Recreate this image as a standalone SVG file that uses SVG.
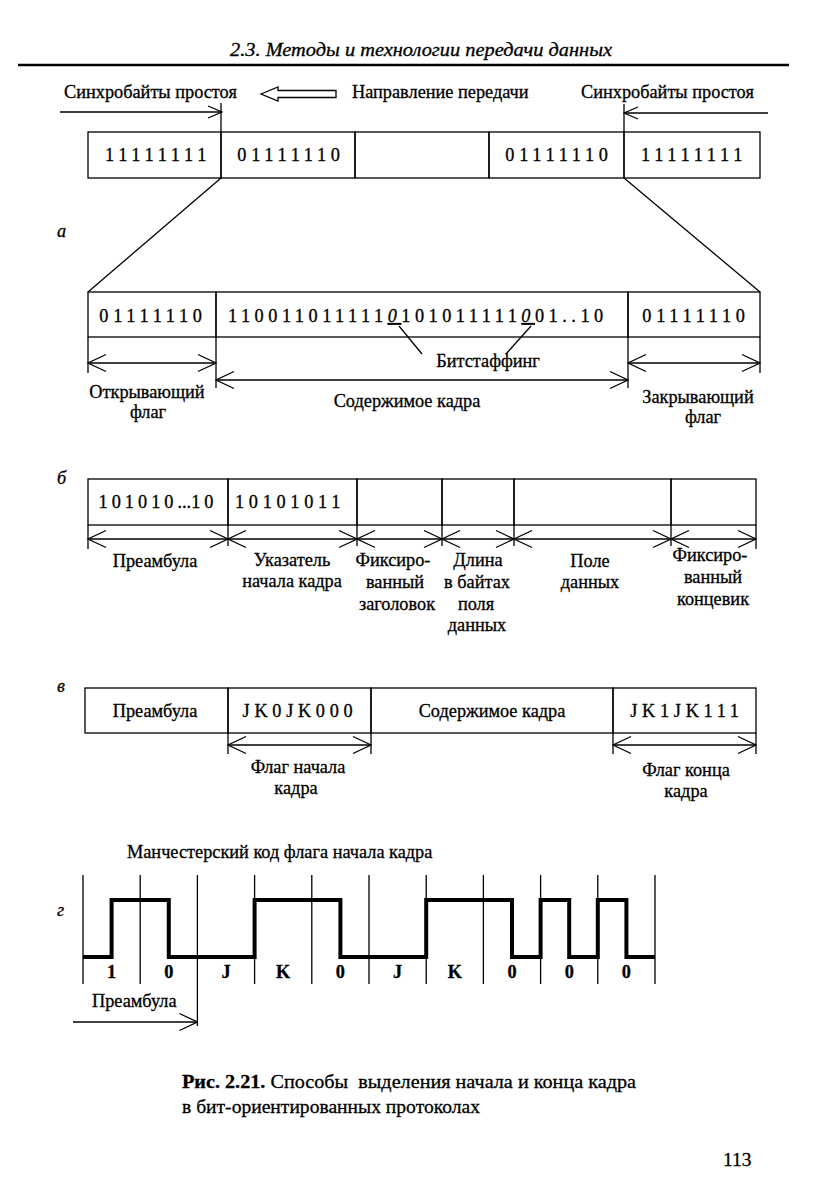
<svg xmlns="http://www.w3.org/2000/svg" width="834" height="1198" viewBox="0 0 834 1198">
<style>
.t{font-family:"Liberation Serif","DejaVu Serif",serif;font-size:18.3px;fill:#000;stroke:#000;stroke-width:0.3}
.m{text-anchor:middle}
.b{letter-spacing:4.7px}
.it{font-style:italic}
.box{fill:none;stroke:#000;stroke-width:1.3}
.ln{fill:none;stroke:#000;stroke-width:1.3}
.wave{fill:none;stroke:#000;stroke-width:4;stroke-linejoin:miter}
</style>
<defs>
<marker id="ah" markerUnits="userSpaceOnUse" viewBox="0 0 20 20" markerWidth="20" markerHeight="20" refX="19" refY="10" orient="auto-start-reverse"><path d="M1,1.5 L19,10 L1,18.5" fill="none" stroke="#000" stroke-width="1.3"/></marker>
<marker id="as" markerUnits="userSpaceOnUse" viewBox="0 0 16 14" markerWidth="16" markerHeight="14" refX="15" refY="7" orient="auto-start-reverse"><path d="M1,1 L15,7 L1,13" fill="none" stroke="#000" stroke-width="1.3"/></marker>
</defs>
<rect width="834" height="1198" fill="#fff"/>

<g id="header">
<text class="t it" x="230" y="56" textLength="382" lengthAdjust="spacingAndGlyphs">2.3. Методы и технологии передачи данных</text>
<line x1="18" y1="65" x2="789" y2="65" stroke="#000" stroke-width="2.5"/>
</g>

<g id="labels-a-top">
<text class="t" x="64" y="98">Синхробайты простоя</text>
<polygon points="261,94 278,87 278,90.5 336,90.5 336,97.5 278,97.5 278,101" fill="#fff" stroke="#000" stroke-width="1.3"/>
<text class="t" x="352" y="98">Направление передачи</text>
<text class="t" x="581" y="98">Синхробайты простоя</text>
<text class="t it" x="57" y="237">а</text>
</g>

<g id="a-frame">
<g id="a-c1"><rect class="box" x="88" y="132" width="133" height="46"/><text class="t m b" x="158" y="161">11111111</text></g>
<g id="a-c2"><rect class="box" x="221" y="132" width="134" height="46"/><text class="t m b" x="291" y="161">01111110</text></g>
<g id="a-c3"><rect class="box" x="355" y="132" width="134" height="46"/></g>
<g id="a-c4"><rect class="box" x="489" y="132" width="135" height="46"/><text class="t m b" x="559" y="161">01111110</text></g>
<g id="a-c5"><rect class="box" x="624" y="132" width="136" height="46"/><text class="t m b" x="694" y="161">11111111</text></g>
</g>

<g id="a-detail">
<g id="a-open"><rect class="box" x="88" y="292" width="128" height="45"/><text class="t m b" x="153" y="322">01111110</text></g>
<g id="a-body"><rect class="box" x="216" y="292" width="412" height="45"/><text class="t" x="228" y="322" style="letter-spacing:4.5px">110011011111<tspan font-style="italic" text-decoration="underline">0</tspan>101011111<tspan font-style="italic" text-decoration="underline">0</tspan>01..10</text></g>
<g id="a-close"><rect class="box" x="628" y="292" width="132" height="45"/><text class="t m b" x="696" y="322">01111110</text></g>
<text class="t m" x="488" y="367">Битстаффинг</text>
<text class="t m" x="147" y="398">Открывающий</text>
<text class="t m" x="148" y="418">флаг</text>
<text class="t m" x="407" y="407">Содержимое кадра</text>
<text class="t m" x="698" y="403">Закрывающий</text>
<text class="t m" x="703" y="423">флаг</text>
</g>

<g id="b-frame">
<text class="t it" x="57" y="484">б</text>
<g id="b-c1"><rect class="box" x="88" y="479" width="140" height="46"/><text class="t m" x="158" y="508" style="letter-spacing:4px">101010<tspan style="letter-spacing:0">...</tspan>10</text></g>
<g id="b-c2"><rect class="box" x="228" y="479" width="129" height="46"/><text class="t m b" x="290" y="508">10101011</text></g>
<g id="b-c3"><rect class="box" x="357" y="479" width="85" height="46"/></g>
<g id="b-c4"><rect class="box" x="442" y="479" width="72" height="46"/></g>
<g id="b-c5"><rect class="box" x="514" y="479" width="157" height="46"/></g>
<g id="b-c6"><rect class="box" x="671" y="479" width="85" height="46"/></g>
<text class="t m" x="155" y="567">Преамбула</text>
<text class="t m" x="292" y="566">Указатель</text>
<text class="t m" x="292" y="587">начала кадра</text>
<text class="t m" x="393" y="566">Фиксиро-</text>
<text class="t m" x="395" y="588">ванный</text>
<text class="t m" x="397" y="610">заголовок</text>
<text class="t m" x="478" y="566">Длина</text>
<text class="t m" x="477" y="588">в байтах</text>
<text class="t m" x="476" y="610">поля</text>
<text class="t m" x="477" y="631">данных</text>
<text class="t m" x="590" y="567">Поле</text>
<text class="t m" x="590" y="588">данных</text>
<text class="t m" x="710" y="561">Фиксиро-</text>
<text class="t m" x="713" y="583">ванный</text>
<text class="t m" x="713" y="605">концевик</text>
</g>

<g id="c-frame">
<text class="t it" x="57" y="692">в</text>
<g id="c-c1"><rect class="box" x="85" y="688" width="143" height="45"/><text class="t m" x="155" y="717">Преамбула</text></g>
<g id="c-c2"><rect class="box" x="228" y="688" width="143" height="45"/><text class="t m" x="300" y="717" style="letter-spacing:4.7px">JK0JK000</text></g>
<g id="c-c3"><rect class="box" x="371" y="688" width="242" height="45"/><text class="t m" x="492" y="717">Содержимое кадра</text></g>
<g id="c-c4"><rect class="box" x="613" y="688" width="143" height="45"/><text class="t m" x="687" y="717" style="letter-spacing:4.7px">JK1JK111</text></g>
<text class="t m" x="298" y="773">Флаг начала</text>
<text class="t m" x="296" y="794">кадра</text>
<text class="t m" x="686" y="776">Флаг конца</text>
<text class="t m" x="686" y="797">кадра</text>
</g>

<g id="d-signal">
<text class="t it" x="57" y="916">г</text>
<text class="t" x="127" y="858">Манчестерский код флага начала кадра</text>
<path class="wave" d="M83,957 H111.6 V900 H168.8 V957 H254.6 V900 H340.4 V957 H426.2 V900 H512 V957 H540.6 V900 H569.2 V957 H597.8 V900 H626.4 V957 H655"/>
<g font-weight="bold">
<text class="t m" x="111.6" y="978">1</text>
<text class="t m" x="168.8" y="978">0</text>
<text class="t m" x="226" y="978">J</text>
<text class="t m" x="283.2" y="978">K</text>
<text class="t m" x="340.4" y="978">0</text>
<text class="t m" x="397.6" y="978">J</text>
<text class="t m" x="454.8" y="978">K</text>
<text class="t m" x="512" y="978">0</text>
<text class="t m" x="569.2" y="978">0</text>
<text class="t m" x="626.4" y="978">0</text>
</g>
<text class="t" x="92" y="1007">Преамбула</text>
</g>

<g id="connectors">
<line class="ln" x1="60" y1="112" x2="222" y2="112" marker-end="url(#as)"/>
<line class="ln" x1="768" y1="113" x2="624" y2="113" marker-end="url(#as)"/>
<line class="ln" x1="221" y1="103" x2="221" y2="132"/>
<line class="ln" x1="624" y1="104" x2="624" y2="132"/>
<line class="ln" x1="221" y1="178" x2="88" y2="292"/>
<line class="ln" x1="624" y1="178" x2="760" y2="292"/>
<line class="ln" x1="399" y1="326" x2="422" y2="354"/>
<line class="ln" x1="531" y1="326" x2="506" y2="354"/>
<line class="ln" x1="88" y1="337" x2="88" y2="373"/>
<line class="ln" x1="216" y1="337" x2="216" y2="388"/>
<line class="ln" x1="628" y1="337" x2="628" y2="388"/>
<line class="ln" x1="760" y1="337" x2="760" y2="373"/>
<line class="ln" x1="88" y1="363" x2="216" y2="363" marker-start="url(#ah)" marker-end="url(#ah)"/>
<line class="ln" x1="216" y1="380" x2="628" y2="380" marker-start="url(#ah)" marker-end="url(#ah)"/>
<line class="ln" x1="628" y1="363" x2="760" y2="363" marker-start="url(#ah)" marker-end="url(#ah)"/>
<path class="ln" d="M88,525 V549 M228,525 V546 M357,525 V546 M442,525 V546 M514,525 V546 M671,525 V546 M756,525 V549"/>
<line class="ln" x1="88" y1="539" x2="228" y2="539" marker-start="url(#ah)" marker-end="url(#ah)"/>
<line class="ln" x1="228" y1="539" x2="357" y2="539" marker-start="url(#ah)" marker-end="url(#ah)"/>
<line class="ln" x1="357" y1="539" x2="442" y2="539" marker-start="url(#ah)" marker-end="url(#ah)"/>
<line class="ln" x1="442" y1="539" x2="514" y2="539" marker-start="url(#ah)" marker-end="url(#ah)"/>
<line class="ln" x1="514" y1="539" x2="671" y2="539" marker-start="url(#ah)" marker-end="url(#ah)"/>
<line class="ln" x1="671" y1="539" x2="756" y2="539" marker-start="url(#ah)" marker-end="url(#ah)"/>
<path class="ln" d="M228,733 V754 M371,733 V754 M613,733 V754 M756,733 V754"/>
<line class="ln" x1="228" y1="745" x2="371" y2="745" marker-start="url(#ah)" marker-end="url(#ah)"/>
<line class="ln" x1="613" y1="745" x2="756" y2="745" marker-start="url(#ah)" marker-end="url(#ah)"/>
<path class="ln" d="M83,875 V984 M140.2,875 V984 M197.4,875 V1026 M254.6,875 V984 M311.8,875 V984 M369,875 V984 M426.2,875 V984 M483.4,875 V984 M540.6,875 V984 M597.8,875 V984 M655,875 V984"/>
<line class="ln" x1="73" y1="1022" x2="197.4" y2="1022" marker-end="url(#ah)"/>
</g>

<g id="caption">
<text class="t" x="182" y="1088" xml:space="preserve" textLength="454" lengthAdjust="spacingAndGlyphs" style="font-size:19.5px"><tspan font-weight="bold">Рис. 2.21.</tspan> Способы  выделения начала и конца кадра</text>
<text class="t" x="182" y="1113" textLength="298" lengthAdjust="spacingAndGlyphs" style="font-size:19.5px">в бит-ориентированных протоколах</text>
<text class="t" x="723" y="1166" style="font-size:19.5px">113</text>
</g>
</svg>
